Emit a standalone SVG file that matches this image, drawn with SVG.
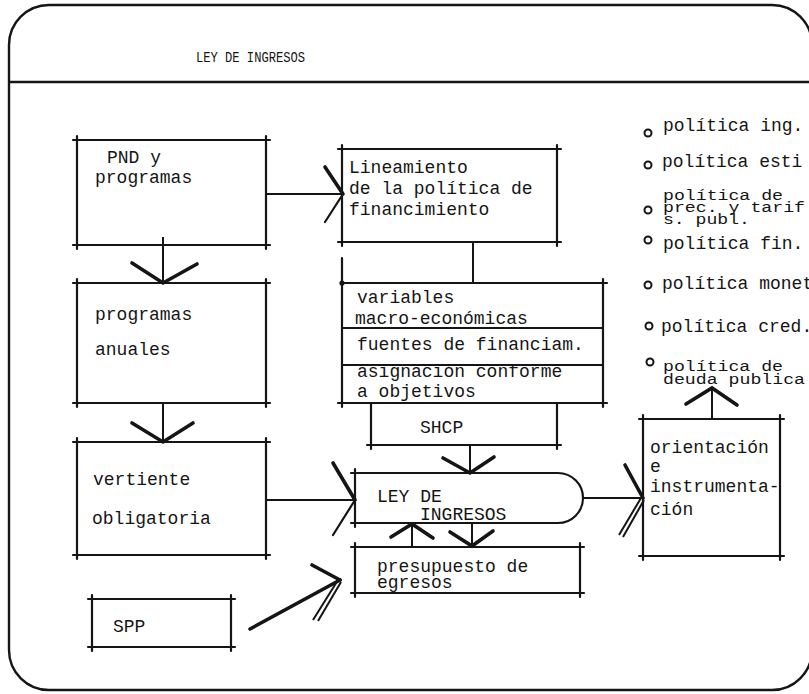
<svg xmlns="http://www.w3.org/2000/svg" width="809" height="694" viewBox="0 0 809 694">
<defs>
<style>
.fr{fill:none;stroke:#151515;stroke-width:2.4}
.bx{fill:none;stroke:#151515;stroke-width:2.2;stroke-linecap:round}
.ln{fill:none;stroke:#151515;stroke-width:2}
.bb{fill:none;stroke:#151515;stroke-width:3.6;stroke-linecap:round}
.bt{fill:none;stroke:#151515;stroke-width:2.2;stroke-linecap:round}
.t{font-family:"Liberation Mono","Courier New",monospace;font-size:18px;fill:#151515}
.ts{font-family:"Liberation Mono","Courier New",monospace;font-size:14px;fill:#151515}
.tt{font-family:"Liberation Mono","Courier New",monospace;font-size:14px;fill:#151515}
.bul{fill:none;stroke:#151515;stroke-width:2}
</style>
</defs>
<rect width="809" height="694" fill="#ffffff"/>
<g id="frame">
<rect class="fr" x="9" y="5" width="803" height="685" rx="40" ry="40"/>
<line class="fr" x1="9" y1="82" x2="809" y2="82"/>
<text class="tt" x="196" y="62" textLength="109" lengthAdjust="spacingAndGlyphs">LEY DE INGRESOS</text>
</g>
<g id="n-pnd">
<path class="bx" d="M73 140H270M73 245H270M77 136V249M266 136V249"/>
<text class="t" x="107" y="163">PND y</text>
<text class="t" x="95" y="183">programas</text>
</g>
<g id="n-anuales">
<path class="bx" d="M73 283H270M73 403H270M77 279V407M266 279V407"/>
<text class="t" x="95" y="320">programas</text>
<text class="t" x="95" y="355">anuales</text>
</g>
<g id="n-vertiente">
<path class="bx" d="M73 442H270M73 555H270M77 438V559M266 438V559"/>
<text class="t" x="93" y="485">vertiente</text>
<text class="t" x="92" y="524">obligatoria</text>
</g>
<g id="n-spp">
<path class="bx" d="M88 599H235M88 647H235M92 595V651M231 595V651"/>
<text class="t" x="113" y="632">SPP</text>
</g>
<g id="n-lineamiento">
<path class="bx" d="M338 149H561M338 242H561M342 145V246M557 145V246"/>
<text class="t" x="349" y="173">Lineamiento</text>
<text class="t" x="349" y="194">de la política de</text>
<text class="t" x="349" y="215">financimiento</text>
</g>
<g id="n-marco">
<path class="bx" d="M342 283H607M342 328H603M342 365H603M338 403H607M342 258V407M603 279V407"/>
<circle cx="342" cy="283" r="2.6" fill="#151515"/>
<text class="t" x="357" y="303">variables</text>
<text class="t" x="355" y="324">macro-económicas</text>
<text class="t" x="357" y="350">fuentes de financiam.</text>
<text class="t" x="357" y="377">asignación conforme</text>
<text class="t" x="357" y="397">a objetivos</text>
</g>
<g id="n-shcp">
<path class="bx" d="M367 445H561M371 403V449M557 403V449"/>
<text class="t" x="420" y="433">SHCP</text>
</g>
<g id="n-ley">
<path class="bx" d="M355 469V527M351 473H558A25 25 0 0 1 558 523H351"/>
<text class="t" x="377" y="502">LEY DE</text>
<text class="t" x="420" y="520">INGRESOS</text>
</g>
<g id="n-presupuesto">
<path class="bx" d="M351 547H584M351 593H584M355 543V597M580 543V597"/>
<text class="t" x="377" y="572">presupuesto de</text>
<text class="t" x="377" y="588">egresos</text>
</g>
<g id="n-orientacion">
<path class="bx" d="M639 419H784M639 556H784M643 415V560M780 415V560"/>
<text class="t" x="650" y="453">orientación</text>
<text class="t" x="650" y="472">e</text>
<text class="t" x="650" y="492">instrumenta-</text>
<text class="t" x="650" y="515">ción</text>
</g>
<g id="n-politicas">
<circle class="bul" cx="648" cy="133" r="3.5"/>
<text class="t" x="663" y="131">política ing.</text>
<circle class="bul" cx="648" cy="165" r="3.5"/>
<text class="t" x="662" y="167">política esti</text>
<circle class="bul" cx="648" cy="210" r="3.5"/>
<text class="ts" x="663" y="200" textLength="120" lengthAdjust="spacingAndGlyphs">política de</text>
<text class="ts" x="663" y="212" textLength="142" lengthAdjust="spacingAndGlyphs">prec. y tarif</text>
<text class="ts" x="663" y="224" textLength="87" lengthAdjust="spacingAndGlyphs">s. publ.</text>
<circle class="bul" cx="648" cy="240" r="3.5"/>
<text class="t" x="663" y="249">política fin.</text>
<circle class="bul" cx="648" cy="285" r="3.5"/>
<text class="t" x="662" y="289">política monet</text>
<circle class="bul" cx="649" cy="326" r="3.5"/>
<text class="t" x="661" y="332">política cred.</text>
<circle class="bul" cx="650" cy="362" r="3.5"/>
<text class="ts" x="663" y="371" textLength="120" lengthAdjust="spacingAndGlyphs">política de</text>
<text class="ts" x="663" y="384" textLength="142" lengthAdjust="spacingAndGlyphs">deuda publica</text>
</g>
<g id="connectors">
<line class="ln" x1="266" y1="194" x2="343" y2="194"/>
<path class="bb" d="M325 167L343 194"/>
<path class="bt" d="M325 222L343 194"/>
<line class="ln" x1="163" y1="237" x2="163" y2="283"/>
<path class="bb" d="M132 263L163 283L197 264"/>
<line class="ln" x1="163" y1="403" x2="163" y2="442"/>
<path class="bb" d="M132 423L163 442L193 423"/>
<line class="ln" x1="473" y1="242" x2="473" y2="283"/>
<line class="ln" x1="266" y1="500" x2="355" y2="500"/>
<path class="bb" d="M333 463L355 500"/>
<path class="bt" d="M333 535L355 500"/>
<line class="ln" x1="470" y1="445" x2="470" y2="473"/>
<path class="bb" d="M443 458L470 473L494 457"/>
<line class="ln" x1="412" y1="547" x2="412" y2="524"/>
<path class="bb" d="M391 537L412 524L433 538"/>
<line class="ln" x1="472" y1="523" x2="472" y2="547"/>
<path class="bb" d="M450 532L472 546L493 531"/>
<line class="bb" x1="250" y1="629" x2="340" y2="580"/>
<path class="bb" d="M312 565L340 580"/>
<path class="ln" d="M313 620L338 580M318 621L341 582"/>
<line class="ln" x1="583" y1="498" x2="643" y2="498"/>
<path class="bb" d="M625 465L643 498"/>
<path class="ln" d="M619 535L641 498M623 537L644 500"/>
<line class="ln" x1="712" y1="419" x2="712" y2="388"/>
<path class="bb" d="M686 404L712 388L737 405"/>
</g>
</svg>
